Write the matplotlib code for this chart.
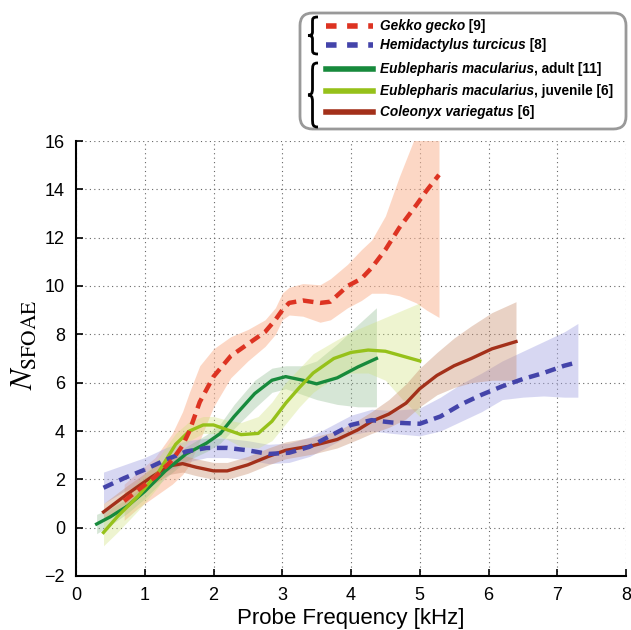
import numpy as np
import matplotlib
matplotlib.use('Agg')
import matplotlib.pyplot as plt
from matplotlib.path import Path
from matplotlib.patches import PathPatch, FancyBboxPatch
from matplotlib.lines import Line2D
from matplotlib import font_manager

plt.rcParams['font.family'] = ['Liberation Sans', 'DejaVu Sans']
plt.rcParams['mathtext.fontset'] = 'stix'

names = {f.name for f in font_manager.fontManager.ttflist}
leg_family = 'Liberation Sans Narrow' if 'Liberation Sans Narrow' in names else 'Liberation Sans'
leg_size = 11.5 if leg_family == 'Liberation Sans Narrow' else 9.8

# Gekko gecko [9]
gek_x = [0.7, 0.9, 1.15, 1.4, 1.55, 1.65, 1.8, 2.0, 2.25, 2.5, 2.75, 2.9, 3.0, 3.1, 3.3, 3.55, 3.7, 3.95, 4.15, 4.3, 4.5, 4.7, 4.95, 5.1, 5.28]
gek_y = [1.1, 1.55, 2.1, 2.8, 3.4, 4.0, 5.2, 6.25, 7.1, 7.6, 8.1, 8.6, 9.0, 9.3, 9.4, 9.3, 9.35, 10.0, 10.3, 10.75, 11.5, 12.4, 13.35, 13.95, 14.6]
gek_hi = [1.8, 2.3, 2.9, 3.9, 4.8, 5.6, 6.7, 7.4, 7.9, 8.2, 8.6, 9.1, 9.7, 9.95, 10.1, 10.05, 10.3, 10.9, 11.5, 11.9, 12.9, 14.5, 16.3, 16.5, 16.5]
gek_lo = [0.3, 0.8, 1.3, 1.8, 2.2, 2.6, 3.6, 5.0, 6.2, 6.9, 7.5, 8.0, 8.6, 8.8, 8.75, 8.5, 8.6, 9.1, 9.4, 9.7, 9.7, 9.6, 9.3, 9.0, 8.7]

# Hemidactylus turcicus [8]
hem_x = [0.4, 0.7, 1.0, 1.3, 1.6, 1.9, 2.2, 2.5, 2.8, 3.1, 3.4, 3.7, 4.0, 4.3, 4.6, 5.0, 5.3, 5.6, 5.9, 6.2, 6.5, 6.8, 7.1, 7.3]
hem_y = [1.65, 2.05, 2.4, 2.8, 3.15, 3.3, 3.3, 3.2, 3.05, 3.1, 3.35, 3.8, 4.25, 4.45, 4.35, 4.3, 4.6, 5.1, 5.5, 5.85, 6.15, 6.4, 6.7, 6.85]
hem_hi = [2.3, 2.6, 2.9, 3.3, 3.6, 3.7, 3.7, 3.6, 3.45, 3.5, 3.75, 4.2, 4.65, 4.9, 4.85, 4.95, 5.4, 5.95, 6.4, 6.9, 7.3, 7.7, 8.1, 8.45]
hem_lo = [1.0, 1.5, 1.9, 2.3, 2.7, 2.9, 2.9, 2.8, 2.65, 2.7, 2.95, 3.4, 3.85, 4.0, 3.9, 3.8, 4.0, 4.4, 4.8, 5.3, 5.4, 5.45, 5.4, 5.4]

# Eublepharis macularius, adult [11]
adu_x = [0.3, 0.5, 0.75, 1.0, 1.3, 1.6, 1.9, 2.1, 2.3, 2.6, 2.85, 3.05, 3.3, 3.5, 3.8, 4.1, 4.37]
adu_y = [0.15, 0.45, 0.9, 1.5, 2.35, 3.05, 3.5, 3.9, 4.6, 5.55, 6.1, 6.25, 6.1, 5.95, 6.2, 6.65, 7.0]
adu_hi = [0.55, 0.8, 1.2, 1.8, 2.65, 3.35, 3.85, 4.3, 5.1, 6.1, 6.6, 6.7, 6.7, 6.9, 7.6, 8.4, 9.1]
adu_lo = [-0.25, 0.1, 0.6, 1.2, 2.05, 2.75, 3.15, 3.5, 4.1, 4.95, 5.6, 5.75, 5.5, 5.3, 5.1, 5.0, 5.0]

# Eublepharis macularius, juvenile [6]
juv_x = [0.4, 0.6, 0.9, 1.2, 1.45, 1.65, 1.85, 2.0, 2.2, 2.4, 2.65, 2.85, 3.05, 3.25, 3.45, 3.75, 4.0, 4.25, 4.5, 4.75, 5.0]
juv_y = [-0.2, 0.45, 1.3, 2.3, 3.45, 4.0, 4.25, 4.25, 4.05, 3.85, 3.9, 4.4, 5.15, 5.8, 6.4, 7.0, 7.25, 7.35, 7.3, 7.1, 6.9]
juv_hi = [0.4, 1.1, 1.9, 2.9, 3.9, 4.4, 4.6, 4.6, 4.45, 4.35, 4.6, 5.2, 6.0, 6.6, 7.2, 7.7, 8.1, 8.4, 8.7, 9.0, 9.3]
juv_lo = [-0.75, -0.2, 0.7, 1.7, 3.0, 3.6, 3.9, 3.9, 3.65, 3.35, 3.3, 3.6, 4.3, 5.0, 5.6, 6.2, 6.4, 6.4, 6.1, 5.3, 4.6]

# Coleonyx variegatus [6]
col_x = [0.4, 0.75, 1.1, 1.35, 1.55, 1.75, 2.0, 2.2, 2.5, 2.8, 3.05, 3.45, 3.8, 4.1, 4.3, 4.55, 4.8, 5.0, 5.25, 5.5, 5.75, 6.05, 6.4]
col_y = [0.65, 1.4, 2.1, 2.55, 2.65, 2.5, 2.35, 2.35, 2.6, 2.95, 3.2, 3.4, 3.65, 4.05, 4.4, 4.7, 5.15, 5.75, 6.3, 6.7, 7.0, 7.4, 7.7]
col_hi = [1.0, 1.75, 2.45, 2.9, 3.0, 2.85, 2.7, 2.7, 2.95, 3.3, 3.55, 3.75, 4.0, 4.45, 4.8, 5.3, 5.95, 6.6, 7.25, 7.85, 8.35, 8.9, 9.35]
col_lo = [0.3, 1.05, 1.75, 2.2, 2.3, 2.15, 2.0, 2.0, 2.25, 2.6, 2.85, 3.05, 3.3, 3.65, 3.9, 4.15, 4.5, 5.0, 5.5, 5.8, 6.0, 6.1, 6.1]

series = [
    # x, y, hi, lo, line colour, band colour, band alpha, style, italic name, rest
    (gek_x, gek_y, gek_hi, gek_lo, '#dd3322', '#fbb796', 0.55, 'dash', 'Gekko gecko', ' [9]'),
    (hem_x, hem_y, hem_hi, hem_lo, '#4444aa', '#a8a8e4', 0.45, 'dash', 'Hemidactylus turcicus', ' [8]'),
    (adu_x, adu_y, adu_hi, adu_lo, '#178a3c', '#8cb88c', 0.35, 'solid', 'Eublepharis macularius', ', adult [11]'),
    (juv_x, juv_y, juv_hi, juv_lo, '#96c11a', '#cfe27a', 0.35, 'solid', 'Eublepharis macularius', ', juvenile [6]'),
    (col_x, col_y, col_hi, col_lo, '#a3301a', '#c99070', 0.4, 'solid', 'Coleonyx variegatus', ' [6]'),
]

W, H = 631, 630
fig = plt.figure(figsize=(W / 100, H / 100), dpi=100)
ax = fig.add_axes([76 / W, 1 - 576 / H, 550 / W, 435 / H])

# bands first
for x, y, hi, lo, lc, bc, ba, st, nm, rest in series:
    ax.fill_between(x, lo, hi, color=bc, alpha=ba, lw=0, zorder=1)

# then lines
order = [4, 2, 3, 1, 0]
for i in order:
    x, y, hi, lo, lc, bc, ba, st, nm, rest = series[i]
    if st == 'dash':
        ax.plot(x, y, color=lc, lw=3.2, dashes=(2.4, 1.5), zorder=3, solid_capstyle='butt')
    else:
        ax.plot(x, y, color=lc, lw=2.4, zorder=3)

ax.set_xlim(0, 8)
ax.set_ylim(-2, 16)
ax.set_xticks(range(0, 9))
ax.set_yticks(range(-2, 17, 2))
ax.set_yticklabels(['\u22122'] + [str(v) for v in range(0, 17, 2)])
ax.grid(True, linestyle=(0, (1, 3)), color='#666666', lw=0.8)
ax.set_axisbelow(True)
for s in ['top', 'right']:
    ax.spines[s].set_visible(False)
for s in ['left', 'bottom']:
    ax.spines[s].set_linewidth(1.5)
ax.tick_params(direction='in', length=5, width=1.2, labelsize=13, pad=8)
ax.set_xlabel('Probe Frequency [kHz]', fontsize=16, labelpad=3)
fig.text(25 / W, 1 - 345 / H, r'$N_{\mathrm{SFOAE}}$', rotation=90, fontsize=22,
         ha='center', va='center')

# legend box
box = FancyBboxPatch((300 / W, 1 - 129 / H), 326 / W, 116 / H,
                     boxstyle='round,pad=0,rounding_size=0.02',
                     transform=fig.transFigure, facecolor='white',
                     edgecolor='#999999', lw=2.0, zorder=5)
fig.patches.append(box)


def brace(x0, x1, y0, y1):
    # curly brace opening to the right, pixel coordinates (top-down)
    pts = [(1, 1), (0.45, 1), (0.45, 0.96), (0.45, 0.86),
           (0.45, 0.6),
           (0.45, 0.52), (0.3, 0.5), (0, 0.5),
           (0.3, 0.5), (0.45, 0.48), (0.45, 0.4),
           (0.45, 0.14),
           (0.45, 0.04), (0.45, 0), (1, 0)]
    codes = [Path.MOVETO, Path.CURVE4, Path.CURVE4, Path.CURVE4,
             Path.LINETO,
             Path.CURVE4, Path.CURVE4, Path.CURVE4,
             Path.CURVE4, Path.CURVE4, Path.CURVE4,
             Path.LINETO,
             Path.CURVE4, Path.CURVE4, Path.CURVE4]
    verts = [((x0 + u * (x1 - x0)) / W, 1 - (y1 + v * (y0 - y1)) / H) for u, v in pts]
    fig.patches.append(PathPatch(Path(verts, codes), transform=fig.transFigure,
                                 fill=False, lw=2.0, color='black', zorder=6))


brace(308, 318, 17, 54)
brace(308, 318, 63, 127)

rows = [26, 45, 69, 91, 112]
fig.canvas.draw()
renderer = fig.canvas.get_renderer()
for (x, y, hi, lo, lc, bc, ba, st, nm, rest), ry in zip(series, rows):
    yy = 1 - ry / H
    if st == 'dash':
        ln = Line2D([326 / W, 373 / W], [yy, yy], transform=fig.transFigure, color=lc,
                    lw=4, dashes=(1.9, 1.9), solid_capstyle='butt', zorder=6)
    else:
        ln = Line2D([326 / W, 373 / W], [yy, yy], transform=fig.transFigure, color=lc,
                    lw=4, zorder=6)
    fig.lines.append(ln)
    t1 = fig.text(380 / W, yy, nm, fontsize=leg_size, fontweight='bold', style='italic',
                  family=[leg_family, 'DejaVu Sans'], va='center', ha='left', zorder=6)
    bb = t1.get_window_extent(renderer)
    fig.text(bb.x1 / W, yy, rest, fontsize=leg_size, fontweight='bold',
             family=[leg_family, 'DejaVu Sans'], va='center', ha='left', zorder=6)

fig.savefig('out.png', dpi=100)
